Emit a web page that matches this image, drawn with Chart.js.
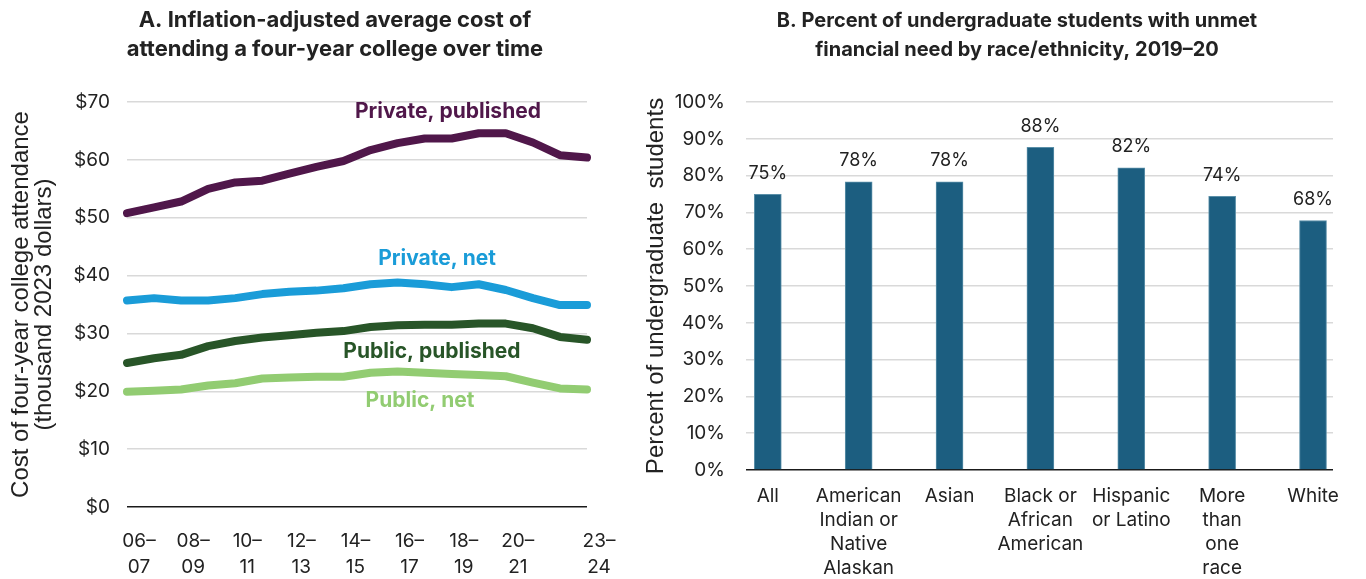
<!DOCTYPE html>
<html>
<head>
<meta charset="utf-8">
<script src="https://cdn.jsdelivr.net/npm/chart.js@4.4.1/dist/chart.umd.min.js"></script>
<style>
html,body{margin:0;padding:0;background:#fff;overflow:hidden;width:1366px;height:579px;}
canvas{position:absolute;top:0;}
#costChart{left:0;}
#needChart{left:640px;}
</style>
</head>
<body>
<canvas id="costChart" width="670" height="579"></canvas>
<canvas id="needChart" width="754" height="579"></canvas>
<script>
// ---------- Panel A data ----------
const years = ['06–07','07–08','08–09','09–10','10–11','11–12','12–13','13–14','14–15','15–16','16–17','17–18','18–19','19–20','20–21','21–22','22–23','23–24'];
const shownYears = ['06–07','08–09','10–11','12–13','14–15','16–17','18–19','20–21','23–24'];
const privatePublished = [50.8,51.8,52.8,55.0,56.1,56.4,57.6,58.8,59.8,61.7,62.9,63.7,63.7,64.6,64.6,63.0,60.8,60.4];
const privateNet       = [35.7,36.1,35.7,35.7,36.1,36.8,37.2,37.4,37.8,38.5,38.8,38.5,38.0,38.5,37.5,36.1,34.9,34.9];
const publicPublished  = [24.9,25.7,26.3,27.8,28.7,29.3,29.7,30.1,30.4,31.1,31.4,31.5,31.5,31.7,31.7,30.9,29.4,28.9];
const publicNet        = [19.9,20.1,20.3,21.0,21.4,22.2,22.4,22.5,22.5,23.2,23.4,23.2,23.0,22.8,22.6,21.5,20.5,20.3];
const costTicks = [0,10,20,30,40,50,60,70];

// ---------- Panel B data ----------
const groups = ['All','American\nIndian or\nNative\nAlaskan','Asian','Black or\nAfrican\nAmerican','Hispanic\nor Latino','More\nthan\none\nrace','White'];
const unmetNeed = [74.9,78.3,78.3,87.7,82.1,74.4,67.8];

const titleA = ['A. Inflation-adjusted average cost of','attending a four-year college over time'];
const titleB = ['B. Percent of undergraduate students with unmet','financial need by race/ethnicity, 2019–20'];

Chart.defaults.font.family = 'Inter';
Chart.defaults.color = '#222';

const gridColor = ctx => ctx.tick && ctx.tick.value === 0 ? '#1a1a1a' : '#d9d9d9';

const lineLabelPlugin = {
  id: 'lineLabels',
  afterDatasetsDraw(chart, args, opts) {
    const {ctx, scales: {x, y}} = chart;
    ctx.save();
    ctx.font = '700 21px Inter';
    ctx.textAlign = 'center';
    ctx.textBaseline = 'middle';
    chart.data.datasets.forEach((ds, i) => {
      const a = opts.anchors[i];
      ctx.fillStyle = ds.borderColor;
      ctx.fillText(ds.label, x.getPixelForValue(a[0]), y.getPixelForValue(a[1]));
    });
    ctx.restore();
  }
};

const barLabelPlugin = {
  id: 'barLabels',
  afterDatasetsDraw(chart, args, opts) {
    const {ctx} = chart;
    const meta = chart.getDatasetMeta(0);
    ctx.save();
    ctx.font = '18px Inter';
    ctx.fillStyle = '#222';
    ctx.textAlign = 'center';
    ctx.textBaseline = 'middle';
    meta.data.forEach((bar, i) => {
      ctx.fillText(Math.round(unmetNeed[i]) + '%', bar.x, bar.y - opts.gap);
    });
    ctx.restore();
  }
};

const titleOpts = (text, size) => ({
  display: true, text: text, color: '#222',
  font: {family: 'Inter', size: size, weight: '700', lineHeight: 29 / size},
  padding: {top: 6, bottom: 38}
});

// empty right-side axis used only to reserve space on the right of the plot
const spacerAxis = w => ({
  position: 'right', display: true,
  grid: {display: false, drawTicks: false}, border: {display: false},
  ticks: {display: false},
  afterFit: s => { s.width = w; }
});

new Chart(document.getElementById('costChart'), {
  type: 'line',
  data: {
    labels: years,
    datasets: [
      {label: 'Private, published', data: privatePublished, borderColor: '#50174A'},
      {label: 'Private, net', data: privateNet, borderColor: '#1A9CD8'},
      {label: 'Public, published', data: publicPublished, borderColor: '#285528'},
      {label: 'Public, net', data: publicNet, borderColor: '#92CC72'}
    ]
  },
  options: {
    responsive: false, animation: false, devicePixelRatio: 1,
    layout: {padding: 0},
    elements: {
      line: {borderWidth: 8, tension: 0, borderCapStyle: 'round', borderJoinStyle: 'round', fill: false},
      point: {radius: 0, hoverRadius: 0}
    },
    plugins: {
      legend: {display: false},
      tooltip: {enabled: false},
      title: titleOpts(titleA, 22),
      lineLabels: {anchors: [[11.86, 68.4], [11.46, 42.9], [11.27, 26.8], [10.83, 18.3]]}
    },
    scales: {
      x: {
        type: 'category', offset: false,
        grid: {display: false, drawTicks: false}, border: {display: false},
        ticks: {
          autoSkip: false, maxRotation: 0, padding: 22, labelOffset: 12, color: '#222',
          font: {size: 19, lineHeight: 1.33},
          callback: (v, i) => shownYears.includes(years[i]) ? [years[i].split('–')[0] + '–', years[i].split('–')[1]] : ''
        },
        afterFit: s => { s.height = 72; }
      },
      y: {
        min: 0, max: 70,
        afterBuildTicks: s => { s.ticks = costTicks.map(v => ({value: v})); },
        ticks: {padding: 17, color: '#222', font: {size: 19}, callback: v => '$' + v},
        grid: {color: gridColor, lineWidth: 1.5, drawTicks: false},
        border: {display: false},
        title: {
          display: true, text: ['Cost of four-year college attendance', '(thousand 2023 dollars)'],
          color: '#222', font: {family: 'Liberation Sans', size: 24, lineHeight: 0.96},
          padding: {top: 10, bottom: 0}
        },
        afterFit: s => { s.width = 127; }
      },
      pad: spacerAxis(83)
    }
  },
  plugins: [lineLabelPlugin]
});

new Chart(document.getElementById('needChart'), {
  type: 'bar',
  data: {
    datasets: [{
      label: 'Unmet financial need',
      data: groups.map((g, i) => ({x: i, y: unmetNeed[i]})),
      backgroundColor: '#1C5E80',
      borderColor: '#5A8FA8',
      borderWidth: {left: 1, right: 1, top: 1, bottom: 0},
      barThickness: 27
    }]
  },
  options: {
    responsive: false, animation: false, devicePixelRatio: 1,
    layout: {padding: 0},
    plugins: {
      legend: {display: false},
      tooltip: {enabled: false},
      title: titleOpts(titleB, 20),
      barLabels: {gap: 21}
    },
    scales: {
      x: {
        type: 'linear', offset: false, min: -0.24, max: groups.length - 1 + 0.22,
        grid: {display: false, drawTicks: false}, border: {display: false},
        afterBuildTicks: s => { s.ticks = groups.map((g, i) => ({value: i})); },
        ticks: {
          autoSkip: false, maxRotation: 0, padding: 14, color: '#222',
          font: {size: 19, lineHeight: 1.26},
          callback: v => groups[v] ? groups[v].split('\n') : ''
        },
        afterFit: s => { s.height = 109; }
      },
      y: {
        min: 0, max: 100,
        ticks: {stepSize: 10, padding: 21, color: '#222', font: {size: 19}, callback: v => v + '%'},
        grid: {color: gridColor, lineWidth: 1.5, drawTicks: false},
        border: {display: false},
        title: {
          display: true, text: 'Percent of undergraduate  students',
          color: '#222', font: {family: 'Liberation Sans', size: 24, lineHeight: 1.0},
          padding: {top: 4, bottom: 0}
        },
        afterFit: s => { s.width = 106; }
      },
      pad: spacerAxis(61)
    }
  },
  plugins: [barLabelPlugin]
});
</script>
</body>
</html>
